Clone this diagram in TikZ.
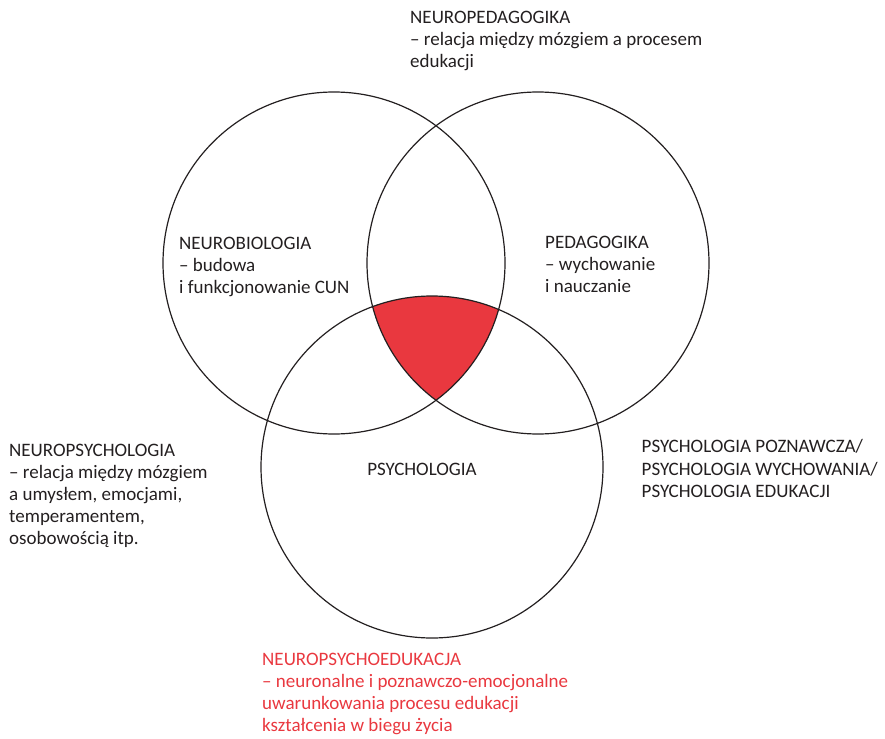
\documentclass[tikz,border=0pt]{standalone}
\usepackage{fontspec}
\setmainfont{Carlito}
\definecolor{vennred}{RGB}{233,56,63}
\definecolor{ink}{RGB}{35,31,32}
\begin{document}
\begin{tikzpicture}[x=1pt,y=-1pt,
  ring/.style={circle, draw=ink, line width=1.2pt, minimum size=342pt, inner sep=0pt},
  txt/.style={anchor=north west, inner sep=0pt, align=left,
    font=\fontsize{19}{22.2}\selectfont, text=ink},
  redtxt/.style={txt, text=vennred}]
\useasboundingbox (0,0) rectangle (885,738);

% circle centres
\coordinate (cA) at (334,263);
\coordinate (cB) at (538,263);
\coordinate (cC) at (432,467);

% common part of the three sets
\begin{scope}
  \clip (cA) circle[radius=171pt];
  \clip (cB) circle[radius=171pt];
  \fill[vennred] (cC) circle[radius=171pt];
\end{scope}

% the three sets
\node[ring] (neurobio) at (cA) {};
\node[ring] (pedag) at (cB) {};
\node[ring] (psych) at (cC) {};

% labels
\node[txt] (tNeuroPed) at (410,10.5) {NEUROPEDAGOGIKA\\– relacja między mózgiem a procesem\\edukacji};
\node[txt] (tNeuroBio) at (179,237) {NEUROBIOLOGIA\\– budowa\\i funkcjonowanie CUN};
\node[txt] (tPed) at (545,235.5) {PEDAGOGIKA\\– wychowanie\\i nauczanie};
\node[txt] (tNeuroPsy) at (9,443.5) {NEUROPSYCHOLOGIA\\– relacja między mózgiem\\a umysłem, emocjami,\\temperamentem,\\osobowością itp.};
\node[txt, anchor=north] (tPsy) at (422,463) {PSYCHOLOGIA};
\node[txt] (tPsyKinds) at (641.5,439.5) {PSYCHOLOGIA POZNAWCZA/\\PSYCHOLOGIA WYCHOWANIA/\\PSYCHOLOGIA EDUKACJI};
\node[redtxt] (tNeuroPsyEdu) at (262,652.5) {NEUROPSYCHOEDUKACJA\\– neuronalne i poznawczo-emocjonalne\\uwarunkowania procesu edukacji\\kształcenia w biegu życia};
\end{tikzpicture}
\end{document}
